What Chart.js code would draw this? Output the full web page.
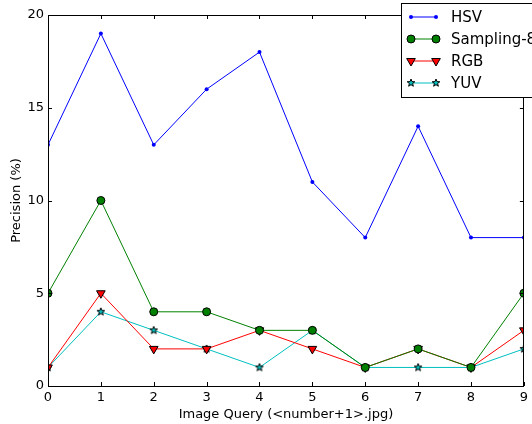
<!DOCTYPE html>
<html>
<head>
<meta charset="utf-8">
<script src="https://cdn.jsdelivr.net/npm/chart.js@4.4.1/dist/chart.umd.min.js"></script>
<style>
  html, body { margin: 0; padding: 0; background: #fff; }
  #wrap { width: 532px; height: 424px; position: relative; }
</style>
</head>
<body>
<div id="wrap"><canvas id="chart"></canvas></div>
<script>
const queries = [0, 1, 2, 3, 4, 5, 6, 7, 8, 9];
const hsv = [13, 19, 13, 16, 18, 11, 8, 14, 8, 8];
const sampling8 = [5, 10, 4, 4, 3, 3, 1, 2, 1, 5];
const rgb = [1, 5, 2, 2, 3, 2, 1, 2, 1, 3];
const yuv = [1, 4, 3, 2, 1, 3, 1, 1, 1, 2];
const yTicks = [0, 5, 10, 15, 20];

const FONT = "'DejaVu Sans', sans-serif";

// filled star marker like matplotlib '*'
function makeStar(size, fill) {
    var c = document.createElement('canvas');
    c.width = size; c.height = size;
    var g = c.getContext('2d');
    var cx = size / 2, cy = size / 2, R = size / 2 - 1, r = R * 0.42;
    g.beginPath();
    for (var i = 0; i < 10; i++) {
        var a = -Math.PI / 2 + i * Math.PI / 5;
        var rad = i % 2 === 0 ? R : r;
        g.lineTo(cx + rad * Math.cos(a), cy + rad * Math.sin(a));
    }
    g.closePath();
    g.fillStyle = fill;
    g.fill();
    g.lineWidth = 1;
    g.strokeStyle = '#000';
    g.stroke();
    return c;
}
const starImg = makeStar(10, '#00bfbf');

function pts(arr) {
    return arr.map(function (v, i) { return { x: queries[i], y: v }; });
}

const datasets = [
    { label: 'HSV', data: pts(hsv), borderColor: '#0000ff', backgroundColor: '#0000ff',
      pointStyle: 'circle', pointRadius: 2, pointBorderWidth: 0 },
    { label: 'Sampling-8', data: pts(sampling8), borderColor: '#008000', backgroundColor: '#008000',
      pointStyle: 'circle', pointRadius: 4, pointBorderColor: '#000', pointBorderWidth: 1 },
    { label: 'RGB', data: pts(rgb), borderColor: '#ff0000', backgroundColor: '#ff0000',
      pointStyle: 'triangle', pointRotation: 180, pointRadius: 5, pointBorderColor: '#000', pointBorderWidth: 1 },
    { label: 'YUV', data: pts(yuv), borderColor: '#00bfbf', backgroundColor: '#00bfbf',
      pointStyle: starImg, pointRadius: 5 }
];
datasets.forEach(function (d) { d.borderWidth = 1; d.tension = 0; d.fill = false; });

// matplotlib style inward ticks on all four sides
const frameTicks = {
    id: 'frameTicks',
    afterDraw: function (chart) {
        var ctx = chart.ctx, a = chart.chartArea;
        var xs = chart.scales.x, ys = chart.scales.y;
        ctx.save();
        ctx.strokeStyle = '#000';
        ctx.lineWidth = 1;
        queries.forEach(function (q) {
            var px = Math.round(xs.getPixelForValue(q)) + 0.5;
            ctx.beginPath();
            ctx.moveTo(px, a.bottom); ctx.lineTo(px, a.bottom - 4);
            ctx.moveTo(px, a.top); ctx.lineTo(px, a.top + 4);
            ctx.stroke();
        });
        yTicks.forEach(function (t) {
            var py = Math.round(ys.getPixelForValue(t)) + 0.5;
            ctx.beginPath();
            ctx.moveTo(a.left, py); ctx.lineTo(a.left + 4, py);
            ctx.moveTo(a.right, py); ctx.lineTo(a.right - 4, py);
            ctx.stroke();
        });
        ctx.strokeRect(Math.round(a.left) + 0.5, Math.round(a.top) + 0.5,
            Math.round(a.right - a.left) - 1, Math.round(a.bottom - a.top));
        ctx.restore();
    }
};

// legend box in the top right, running off the canvas like the original
const boxLegend = {
    id: 'boxLegend',
    afterDraw: function (chart) {
        var ctx = chart.ctx;
        var x0 = 401.5, y0 = 3.5, w = 150, h = 94;
        ctx.save();
        ctx.fillStyle = '#fff';
        ctx.fillRect(x0, y0, w, h);
        ctx.strokeStyle = '#000';
        ctx.lineWidth = 1;
        ctx.strokeRect(x0, y0, w, h);
        ctx.font = '15px ' + FONT;
        ctx.textBaseline = 'middle';
        chart.data.datasets.forEach(function (d, i) {
            var y = 17 + i * 22;
            ctx.strokeStyle = d.borderColor;
            ctx.beginPath();
            ctx.moveTo(411, y); ctx.lineTo(436, y);
            ctx.stroke();
            [411, 436].forEach(function (mx) {
                ctx.fillStyle = d.backgroundColor;
                ctx.strokeStyle = d.pointBorderColor || d.borderColor;
                ctx.lineWidth = d.pointBorderWidth || 1;
                Chart.helpers.drawPoint(ctx, {
                    pointStyle: d.pointStyle, rotation: d.pointRotation || 0,
                    radius: d.pointRadius, borderWidth: d.pointBorderWidth || 0
                }, mx, y);
            });
            ctx.fillStyle = '#000';
            ctx.fillText(d.label, 451, y + 1);
        });
        ctx.restore();
    }
};

new Chart(document.getElementById('chart'), {
    type: 'line',
    data: { datasets: datasets },
    options: {
        responsive: true,
        maintainAspectRatio: false,
        animation: false,
        layout: { padding: { top: 15, right: 5, left: 0, bottom: 0 } },
        plugins: { legend: { display: false }, tooltip: { enabled: false } },
        scales: {
            x: {
                type: 'linear', min: 0, max: 9,
                grid: { display: false, drawTicks: false },
                border: { display: false },
                afterBuildTicks: function (s) { s.ticks = queries.map(function (v) { return { value: v }; }); },
                afterFit: function (s) { s.height = 38; },
                ticks: { color: '#000', font: { family: FONT, size: 13 }, padding: 4, maxRotation: 0 },
                title: { display: true, text: 'Image Query (<number+1>.jpg)', color: '#000',
                         font: { family: FONT, size: 13 }, padding: { top: 2, bottom: 2 } }
            },
            y: {
                min: 0, max: 20,
                grid: { display: false, drawTicks: false },
                border: { display: false },
                afterBuildTicks: function (s) { s.ticks = yTicks.map(function (v) { return { value: v }; }); },
                afterFit: function (s) { s.width = 48; },
                ticks: { color: '#000', font: { family: FONT, size: 13 }, padding: 4 },
                title: { display: true, text: 'Precision (%)', color: '#000',
                         font: { family: FONT, size: 13 }, padding: { top: 9, bottom: 6 } }
            }
        }
    },
    plugins: [frameTicks, boxLegend]
});
</script>
</body>
</html>
